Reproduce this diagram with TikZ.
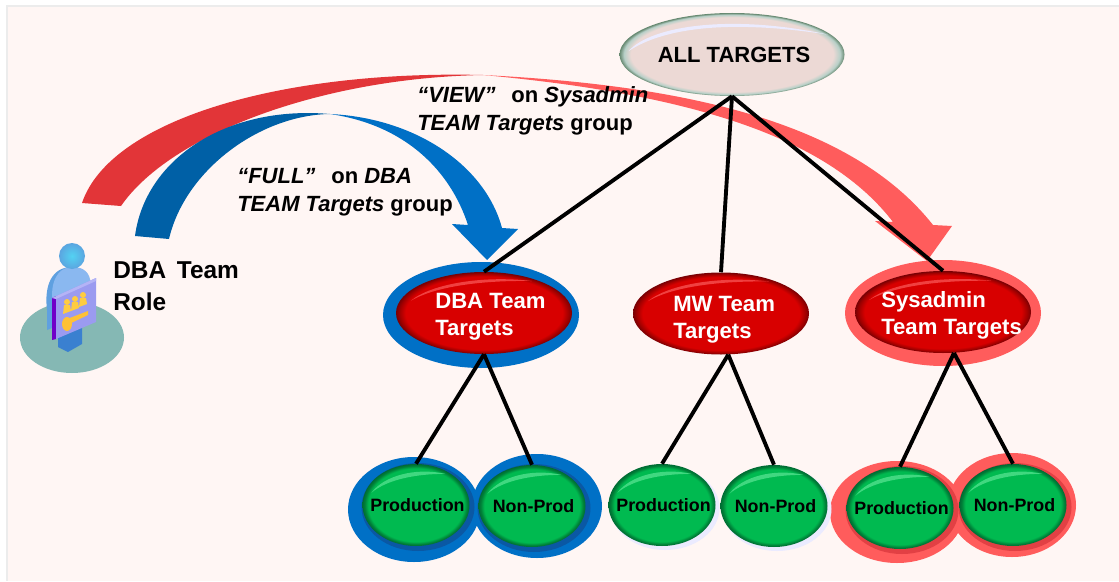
\documentclass[tikz,border=0pt]{standalone}
\usepackage{fontspec}
\setmainfont{Liberation Sans}
\usepackage{xcolor}
\usetikzlibrary{shapes.geometric}
\definecolor{pagebg}{HTML}{FFF6F4}
\definecolor{viewred}{HTML}{E23538}
\definecolor{viewlight}{HTML}{FF5C5C}
\definecolor{viewdark}{HTML}{E24044}
\definecolor{fullblue}{HTML}{0060A6}
\definecolor{fulllight}{HTML}{0070C6}
\definecolor{fulldark}{HTML}{0A58A4}
\definecolor{ballred}{HTML}{D80000}
\definecolor{ballredmid}{HTML}{A00000}
\definecolor{ballredrim}{HTML}{780004}
\definecolor{ballredgloss}{HTML}{F04040}
\definecolor{ballgreen}{HTML}{00BA50}
\definecolor{ballgreenmid}{HTML}{008038}
\definecolor{ballgreenrim}{HTML}{006C34}
\definecolor{ballgreengloss}{HTML}{40D880}
\definecolor{balltop}{HTML}{ECD9D5}
\definecolor{balltopmid}{HTML}{B8D0C8}
\definecolor{balltoprim}{HTML}{668870}
\definecolor{roleplate}{HTML}{85B8B4}
\definecolor{rolebody}{HTML}{8AB8F0}
\definecolor{rolearm}{HTML}{5FA0E0}
\definecolor{rolelegs}{HTML}{3A80D0}
\definecolor{rolehead}{HTML}{8AB4EA}
\definecolor{rolehair}{HTML}{5BA5E0}
\definecolor{rolecard}{HTML}{9B9BF0}
\definecolor{rolecardtop}{HTML}{B4B4F6}
\definecolor{roleedge}{HTML}{7000C8}
\definecolor{rolegold}{HTML}{FFCC40}
\pgfdeclareradialshading{redballshade}{\pgfpoint{0bp}{0bp}}{color(0bp)=(ballred); color(22.3bp)=(ballred); color(24bp)=(ballredmid); color(25bp)=(ballredrim); color(50bp)=(ballredrim)}
\pgfdeclareradialshading{greenballshade}{\pgfpoint{0bp}{0bp}}{color(0bp)=(ballgreen); color(22.3bp)=(ballgreen); color(24bp)=(ballgreenmid); color(25bp)=(ballgreenrim); color(50bp)=(ballgreenrim)}
\pgfdeclareradialshading{topballshade}{\pgfpoint{0bp}{0bp}}{color(0bp)=(balltop); color(22.5bp)=(balltop); color(24bp)=(balltopmid); color(25bp)=(balltoprim); color(50bp)=(balltoprim)}
\tikzset{
  ballsize/.style 2 args={ellipse, inner sep=0pt, minimum width=#1*0.75pt, minimum height=#2*0.75pt},
  redball/.style={ballsize={176}{82}, shading=redballshade},
  greenball/.style={ballsize={107}{82}, shading=greenballshade},
  link/.style={line width=2.9pt, black},
  teamtext/.style={font=\fontsize{16.6}{20.2}\selectfont\bfseries, text=white, align=left, anchor=west, inner sep=0pt},
  greentext/.style={font=\fontsize{13.4}{16}\selectfont\bfseries, text=black, inner sep=0pt},
  grouptext/.style={font=\fontsize{16.5}{20.7}\selectfont\bfseries, text=black, align=left, anchor=west, inner sep=0pt}
}
\begin{document}
\begin{tikzpicture}[x=0.75pt, y=-0.75pt]
  \useasboundingbox (0,0) rectangle (1119,581);
  \fill[white] (0,0) rectangle (1119,581);
  \fill[gray!15] (6,5) rectangle (1119,581);
  \fill[pagebg] (8,7) rectangle (1119,581);
  % arcs
  \fill[viewred]
    (82,203) .. controls (110,120) and (280,70) .. (483,75)
    .. controls (320,78) and (170,135) .. (121,206) -- cycle;
  \fill[viewlight]
    (483,75) .. controls (680,85) and (850,120) .. (933,225)
    -- (952,226) -- (927,261) -- (875,221) -- (893,222)
    .. controls (830,140) and (700,95) .. (483,75) -- cycle;
  \fill[fullblue]
    (135,236) .. controls (145,160) and (225,105) .. (330,114)
    .. controls (260,115) and (185,170) .. (169,239) -- cycle;
  \fill[fulllight]
    (330,114) .. controls (415,118) and (485,165) .. (502,228)
    -- (518,229) -- (487,260) -- (452,224) -- (468,225)
    .. controls (450,170) and (405,125) .. (330,114) -- cycle;
  % halos
  \node[ballsize={196}{106}, fill=fulllight] (dbahalo) at (481,315) {};
  \node[ballsize={196}{106}, fill=viewlight] (syshalo) at (943,313) {};
  \node[ballsize={132}{105}, fill=fulllight] (dbaprodhalo) at (414,509.5) {};
  \node[ballsize={130}{104}, fill=fulllight] (dbanonhalo) at (537,506) {};
  \node[ballsize={134}{102}, fill=viewlight] (sysprodhalo) at (897,512) {};
  \node[ballsize={128}{104}, fill=viewlight] (sysnonhalo) at (1012,505) {};
  \foreach \name/\x/\y/\col in {dbaprodrim/418/507/fulldark, dbanonrim/534/508/fulldark, sysprodrim/902/510/viewdark, sysnonrim/1015/507/viewdark}
    \node[ballsize={113}{88}, fill=\col] (\name) at (\x,\y) {};
  % soft shadows
  \node[ballsize={109}{84}, fill=blue!8] (mwprodshadow) at (665,508) {};
  \node[ballsize={109}{84}, fill=blue!8] (mwnonshadow) at (777,509) {};
  % balls
  \node[ballsize={225}{83}, shading=topballshade] (alltargets) at (732,54.5) {};
  \node[redball] (dbateam) at (484,313) {};
  \node[redball] (mwteam) at (721,313.5) {};
  \node[redball] (systeam) at (943,312) {};
  \foreach \name/\x/\y/\txt in {dbaprod/416/505/Production, dbanon/532/506/Non-Prod, mwprod/662/505/Production, mwnon/774/506/Non-Prod, sysprod/900/508/Production, sysnon/1013/505/Non-Prod}
  {
    \node[greenball] (\name) at (\x,\y) {};
    \begin{scope}[shift={(\name.center)}, xscale=0.53, yscale=0.41]
      \fill[ballgreengloss] (-84,-30) .. controls (-60,-72) and (0,-92) .. (55,-76) .. controls (0,-76) and (-55,-62) .. (-84,-30) -- cycle;
    \end{scope}
    \node[greentext] (\name text) at (\x+1.5,\y) {\txt};
  }
  \foreach \name/\rx/\ry in {dbateam/0.87/0.41, mwteam/0.87/0.41, systeam/0.88/0.4}
  {
    \begin{scope}[shift={(\name.center)}, xscale=\rx, yscale=\ry]
      \fill[ballredgloss] (-84,-30) .. controls (-60,-72) and (0,-92) .. (55,-78) .. controls (0,-80) and (-55,-66) .. (-84,-30) -- cycle;
    \end{scope}
  }
  \begin{scope}[shift={(alltargets.center)}, xscale=1.125, yscale=0.415]
    \fill[blue!8!white] (-92,-8) .. controls (-72,-70) and (0,-98) .. (85,-48) .. controls (0,-84) and (-60,-66) .. (-92,-8) -- cycle;
  \end{scope}
  % links
  \draw[link] (alltargets.south) -- (dbateam.north);
  \draw[link] (alltargets.south) -- (mwteam.north);
  \draw[link] (alltargets.south) -- (systeam.north);
  \draw[link] (dbateam.south) -- (dbaprod.north);
  \draw[link] (dbateam.south) -- (dbanon.north);
  \draw[link] (mwteam.-80) -- (mwprod.north);
  \draw[link] (mwteam.-80) -- (mwnon.north);
  \draw[link] (systeam.-75) -- (sysprod.north);
  \draw[link] (systeam.-75) -- (sysnon.north);
  % texts
  \node[font=\fontsize{16.5}{20}\selectfont\bfseries, inner sep=0pt] (alltext) at (734,54.5) {ALL TARGETS};
  \node[teamtext] (dbatext) at (435,316.5) {DBA Team\\Targets};
  \node[teamtext] (mwtext) at (673,319.5) {MW Team\\Targets};
  \node[teamtext] (systext) at (881,315) {Sysadmin\\Team Targets};
  \node[grouptext] (fulltext) at (237,192.5) {\textit{“FULL”}\;\, on \textit{DBA}\\\textit{TEAM Targets} group};
  \node[grouptext] (viewtext) at (417,111) {\textit{“VIEW”}\;\, on \textit{Sysadmin}\\\textit{TEAM Targets} group};
  \node[grouptext, font=\fontsize{18.3}{24}\selectfont\bfseries] (roletext) at (113,286) {DBA\, Team\\Role};
  % role figure
  \node[ballsize={104}{71}, fill=roleplate] (platform) at (72,337.5) {};
  \fill[rolelegs] (58,325) -- (58,347) -- (68,352) -- (82,344) -- (82,325) -- cycle;
  \fill[rolearm] (47,310) .. controls (44,285) and (52,267) .. (72,267) -- (72,320) -- (47,330) -- cycle;
  \fill[rolebody] (52,296) .. controls (52,275) and (62,267) .. (72,267) .. controls (84,267) and (90,272) .. (91,285) -- (91,320) -- (52,330) -- cycle;
  \shade[inner color=rolehead!60!cyan, outer color=rolehair] (72,256) circle (13);
  \fill[roleedge] (52,298) -- (56,296) -- (56,339) -- (52,340) -- cycle;
  \fill[rolecard] (56,296) -- (96,278) -- (96,322) -- (56,339) -- cycle;
  \fill[rolecardtop] (52,298) -- (96,278) -- (96,281) -- (56,299) -- cycle;
  \foreach \x/\y in {67/302, 75/299, 83/295}
  {
    \fill[rolegold] (\x,\y) circle (3);
    \fill[rolegold] (\x-4,\y+12) -- (\x-3,\y+3) -- (\x+3,\y+3) -- (\x+4,\y+9) -- cycle;
  }
  \fill[rolegold!85!orange] (67,324) ellipse (5 and 7);
  \fill[rolegold!85!orange] (67,319) -- (88,311) -- (88,315) -- (67,325) -- cycle;
\end{tikzpicture}
\end{document}
